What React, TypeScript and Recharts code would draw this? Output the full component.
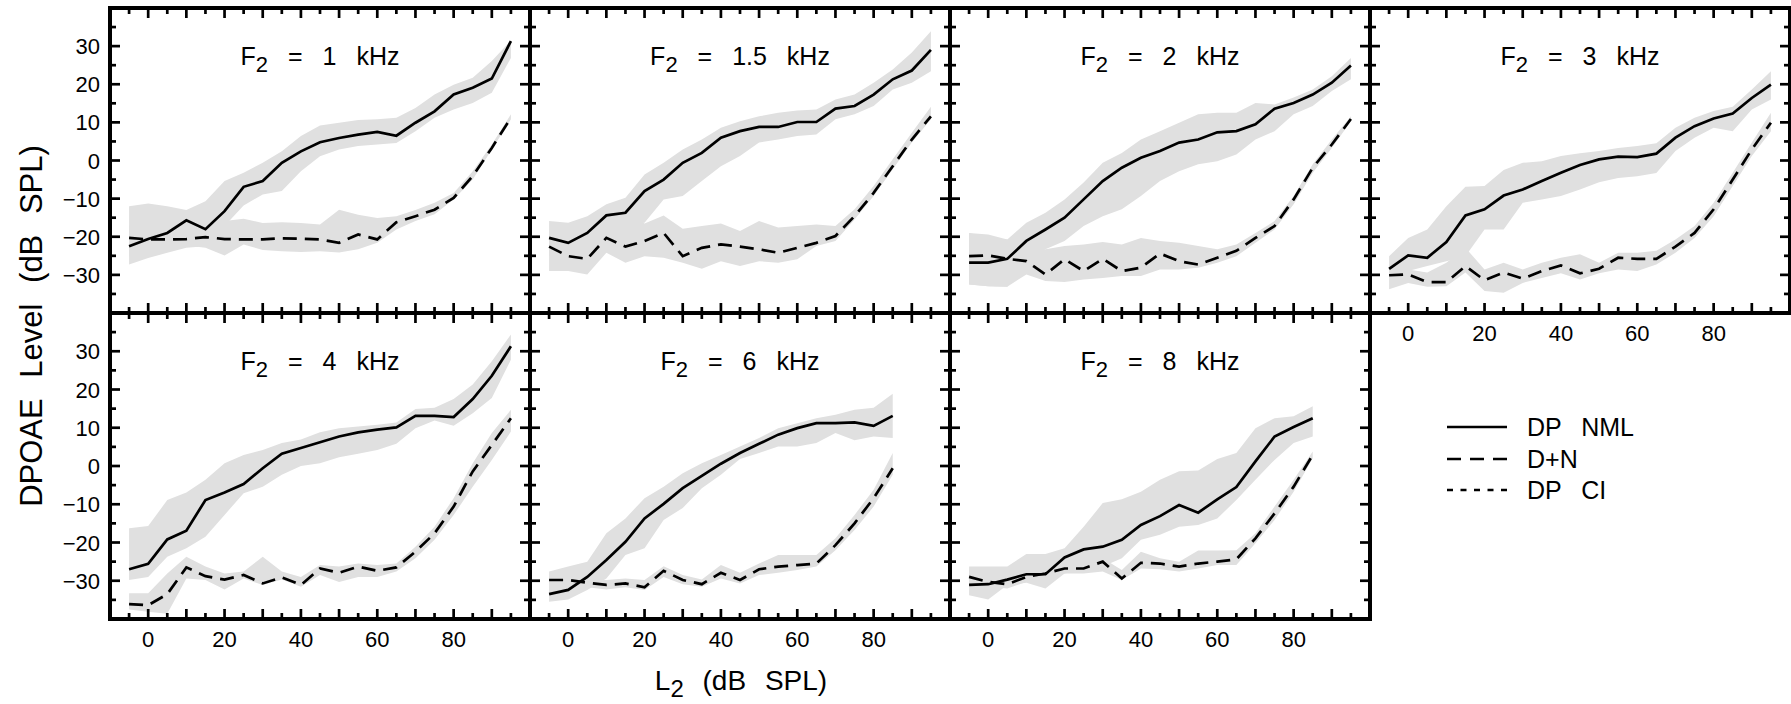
import React from "react"
import { ComposedChart, Area, Line, XAxis, YAxis, ReferenceLine } from "recharts"

// L2 levels (dB SPL)
const L2_FULL = [-5, 0, 5, 10, 15, 20, 25, 30, 35, 40, 45, 50, 55, 60, 65, 70, 75, 80, 85, 90, 95]
const L2_SHORT = [-5, 0, 5, 10, 15, 20, 25, 30, 35, 40, 45, 50, 55, 60, 65, 70, 75, 80, 85]

// tick marks / labels
const X_TICKS = [-5, 0, 5, 10, 15, 20, 25, 30, 35, 40, 45, 50, 55, 60, 65, 70, 75, 80, 85, 90, 95]
const Y_TICKS = [-35, -30, -25, -20, -15, -10, -5, 0, 5, 10, 15, 20, 25, 30, 35]
const X_LABELS = [0, 20, 40, 60, 80]
const Y_LABELS = [-30, -20, -10, 0, 10, 20, 30]

// F2 = 1 kHz
const nml1 = [-22.5, -20.6, -19, -15.7, -18, -13.3, -6.9, -5.4, -0.6, 2.4, 4.8, 5.9, 6.8, 7.5, 6.5, 9.9, 12.9, 17.3, 19.1, 21.5, 31.3]
const nml1Hi = [-12, -11.3, -12, -13, -10.7, -5.4, -3.2, -0.6, 2.4, 6.4, 9.2, 9.9, 10.6, 10.8, 11.2, 13.8, 17.3, 19.9, 21.7, 26.1, 31.5]
const nml1Lo = [-27.3, -25.6, -24.2, -22.9, -22.5, -17.2, -11.8, -8.9, -8, -2.8, 1.1, 2.9, 3.8, 4.2, 4.6, 7.7, 11.2, 13.4, 15.1, 17.8, 26.9]
const dn1 = [-20.3, -20.7, -20.7, -20.6, -20.1, -20.6, -20.7, -20.7, -20.4, -20.5, -20.7, -21.6, -19.4, -20.7, -16.2, -14.6, -12.9, -9.8, -4.1, 3.3, 11.2]
const dn1Hi = [-17, -17.5, -18, -17, -16.8, -15.9, -15.3, -16.4, -16.2, -16.4, -16.8, -12.9, -14.2, -15.1, -14.6, -13, -11.1, -8.5, -2.8, 4.2, 12.1]
const dn1Lo = [-25.1, -23.8, -22.5, -22.3, -22.9, -24.9, -22, -23.5, -23.8, -24, -23.8, -24.1, -23.3, -21.6, -18.1, -15.9, -14.1, -10.2, -5, 2.9, 10.8]

// F2 = 1.5 kHz
const nml2 = [-20.3, -21.6, -19, -14.4, -13.7, -8, -5, -0.6, 2, 6, 7.7, 8.8, 8.8, 10.1, 10.1, 13.6, 14.3, 17.3, 21.3, 23.6, 29]
const nml2Hi = [-15.9, -16.3, -14.6, -11.5, -9.8, -3.7, -0.6, 2.9, 5.5, 8.6, 10.3, 11.6, 12.5, 13.1, 13.4, 16, 17.3, 20.4, 23.9, 28.3, 33.9]
const nml2Lo = [-25, -25.5, -23.5, -18.5, -17, -16.3, -10.2, -9.3, -5.4, -1.5, 1.2, 4.7, 5.5, 6.4, 6.8, 10.8, 12.1, 14.3, 18.6, 20.4, 23.4]
const dn2 = [-22.6, -25.1, -25.8, -20.3, -22.6, -21.1, -19, -25.1, -22.9, -22, -22.6, -23.3, -24.2, -22.9, -21.6, -19.8, -14.6, -8.5, -1.5, 5.5, 11.6]
const dn2Hi = [-19.4, -20.7, -20.7, -15, -13.7, -16.5, -14.4, -17.9, -17.2, -16.5, -18.5, -15.9, -17.6, -17.2, -16.8, -17.2, -12.8, -6.7, 0.3, 7.3, 14.1]
const dn2Lo = [-29, -29, -29.9, -24.2, -26.8, -25.1, -25.5, -26.8, -28.4, -26.4, -27.7, -26.4, -26.8, -25.9, -22.4, -21.1, -15.5, -9.3, -2.3, 4.7, 10.8]

// F2 = 2 kHz
const nml3 = [-26.8, -26.8, -25.8, -21.1, -18.1, -15, -10.2, -5.4, -1.9, 0.7, 2.5, 4.7, 5.5, 7.4, 7.7, 9.5, 13.6, 15.1, 17.3, 20.4, 24.9]
const nml3Hi = [-19, -20.3, -20.7, -16.3, -13.7, -10.2, -5.8, -0.6, 2, 5.5, 7.7, 9.9, 12.1, 12.5, 12.5, 15.1, 14.7, 16.5, 18.6, 22.1, 26.9]
const nml3Lo = [-32.5, -33, -33.1, -24.2, -23.3, -21.1, -17.2, -14.6, -12.8, -9.3, -5.4, -2.8, -1, -0.2, 1.6, 5.5, 7.7, 12.1, 14.3, 18.2, 21.3]
const dn3 = [-25.1, -24.9, -25.8, -26.4, -29.9, -25.9, -29, -25.8, -29, -28.1, -24.4, -26.4, -27.3, -25.5, -23.7, -20.3, -17.2, -10.2, -1.9, 4.2, 10.9]
const dn3Hi = [-19, -19.4, -20.7, -22.4, -23.3, -22.4, -22, -21.4, -22, -20.3, -21.1, -21.6, -22.4, -23.3, -22, -19, -15.9, -9.3, -1, 5.5, 11.6]
const dn3Lo = [-32.5, -33, -33.1, -29.9, -31.6, -31.9, -31.2, -30.8, -30.3, -30.3, -28.6, -28.6, -28.1, -26.8, -25.1, -21.6, -18.1, -11.5, -3.2, 3.3, 10.3]

// F2 = 3 kHz
const nml4 = [-28.4, -24.9, -25.5, -21.4, -14.4, -12.8, -9.2, -7.6, -5.4, -3.2, -1.2, 0.3, 1, 0.9, 1.8, 6, 9, 11, 12.3, 16.4, 19.9]
const nml4Hi = [-25.1, -20.3, -18.1, -12, -6.9, -6.7, -2.5, -0.6, -0.2, 1.2, 1.9, 2.5, 3.3, 3.8, 4.5, 8.6, 11.2, 13, 14.1, 18.6, 23.4]
const nml4Lo = [-31.5, -29, -27.7, -26.4, -25.1, -18.1, -18.1, -11.1, -10.2, -9.3, -7.6, -5.7, -4.6, -4.1, -3.3, 2.5, 6, 8.6, 7.7, 13.4, 16]
const dn4 = [-30.1, -29.9, -31.9, -31.9, -27.7, -31.4, -29.4, -31, -29, -27.5, -29.6, -28.4, -25.5, -25.8, -25.8, -22.6, -19, -12.8, -5, 2.9, 9.9]
const dn4Hi = [-27.7, -28.6, -29.4, -26.8, -22.9, -28.6, -26.8, -28.6, -26.8, -25.5, -24.6, -26.8, -24.2, -24.2, -23.7, -20.7, -17.2, -11.1, -3.2, 4.7, 12.5]
const dn4Lo = [-33.8, -32.1, -33.1, -33, -29.4, -34.2, -34.7, -32.1, -30.8, -29.6, -31.2, -29.6, -28.6, -29, -27.3, -24.2, -20.3, -14.6, -6.7, 1.2, 7.7]

// F2 = 4 kHz
const nml5 = [-27, -25.6, -19.2, -16.9, -8.9, -6.9, -4.7, -0.6, 3.2, 4.7, 6.2, 7.7, 8.8, 9.5, 10.1, 13.1, 13.1, 12.8, 17.5, 23.6, 31.3]
const nml5Hi = [-16.3, -15.7, -8.9, -6.9, -3.6, 0.7, 2.9, 4.2, 6, 6.9, 8.8, 9.9, 10.3, 10.8, 11.4, 14.9, 15.2, 17.5, 21.3, 27.4, 34.4]
const nml5Lo = [-29.8, -29, -23.7, -21.5, -18.5, -12.8, -7.1, -5.4, -2.3, 0, 0.7, 2.3, 3.2, 4.2, 5.8, 9.9, 11.9, 10.5, 13.8, 17.8, 27.8]
const dn5 = [-36.1, -36.4, -33.5, -26.5, -28.8, -29.7, -28.5, -30.7, -29.1, -31.1, -26.8, -27.9, -26.3, -27.4, -26.5, -22.4, -17.6, -10.6, -1.4, 5.5, 12.5]
const dn5Hi = [-33.3, -33.3, -28.1, -23.7, -26.3, -28.1, -27.6, -23.7, -27.6, -29, -25.9, -26.3, -25.5, -25.9, -25.5, -21.1, -15.9, -8.4, 0.7, 8.6, 14.7]
const dn5Lo = [-37.5, -38.1, -38.6, -29.4, -29.8, -32.3, -29.4, -31.1, -29.7, -31.6, -28.5, -30.3, -29, -29, -27.6, -24.1, -19.3, -12.8, -5.4, 1.6, 9]

// F2 = 6 kHz
const nml6 = [-33.5, -32.4, -29, -24.6, -19.8, -13.7, -9.9, -5.8, -2.6, 0.6, 3.4, 5.8, 8.2, 9.9, 11.2, 11.2, 11.4, 10.5, 13.1]
const nml6Hi = [-27.6, -26.3, -25, -17.6, -13.7, -8.4, -5.4, -1.9, 0.7, 2.9, 5.1, 7.3, 9.9, 11.2, 12.5, 13.4, 14.7, 15.2, 18.9]
const nml6Lo = [-35.5, -34.9, -32.4, -29.4, -23.3, -21.5, -14.1, -11, -5.8, -2.3, 1.8, 3.4, 5.1, 5.1, 6, 8.6, 6.7, 7.7, 7.3]
const dn6 = [-29.8, -29.8, -30.5, -31.1, -30.7, -31.7, -27.4, -29.8, -30.9, -27.9, -29.8, -27, -26.3, -25.9, -25.5, -20.7, -15, -8.4, -0.6]
const dn6Hi = [-29, -29, -29.4, -29.8, -29.4, -29.8, -26.2, -28.5, -29.7, -25.9, -27.9, -25.5, -23.3, -23.3, -23.3, -18.9, -12.8, -6.2, 3.4]
const dn6Lo = [-30.7, -31.4, -31.7, -32.3, -31.7, -32.4, -29, -30.9, -31.6, -29.4, -30.7, -28.5, -27.9, -27.2, -26.3, -22, -16.7, -10.6, -2.3]

// F2 = 8 kHz
const nml7 = [-31.1, -30.9, -29.7, -28.3, -28.3, -23.9, -21.8, -21.1, -19.3, -15.4, -13.1, -10.2, -12.2, -8.7, -5.5, 1.2, 7.7, 10.2, 12.5]
const nml7Hi = [-26.3, -26.3, -26.3, -23, -23, -21.5, -15.9, -9.7, -8.7, -6.7, -3.6, -1.4, -1.2, 1.8, 3.4, 9.9, 12.5, 13, 15.6]
const nml7Lo = [-33.8, -34.9, -31.1, -30.5, -32, -28.1, -27.2, -26.3, -24.1, -19.3, -18, -15.9, -15.4, -13.7, -8.9, -3.6, 1.6, 6, 7.7]
const dn7 = [-29, -30.3, -30.9, -29, -28.1, -26.8, -26.8, -25, -29.4, -25.3, -25.5, -26.3, -25.5, -25, -24.4, -18.9, -12.4, -5.4, 2.9]
const dn7Hi = [-27.2, -29, -29.4, -27.6, -27, -25.6, -25.5, -24.1, -27.2, -22.4, -24.1, -25, -22.1, -22.1, -22, -17.6, -10.6, -3.6, 3.8]
const dn7Lo = [-30.7, -31.6, -32, -30.3, -29.4, -28.1, -28.1, -27.6, -29.8, -26.8, -27, -27.6, -26.8, -25.9, -25.9, -20.2, -14.1, -6.7, 2]

const panels = [
  { f: "1", L: L2_FULL, nml: nml1, nmlLo: nml1Lo, nmlHi: nml1Hi, dn: dn1, dnLo: dn1Lo, dnHi: dn1Hi, row: 0, col: 0 },
  { f: "1.5", L: L2_FULL, nml: nml2, nmlLo: nml2Lo, nmlHi: nml2Hi, dn: dn2, dnLo: dn2Lo, dnHi: dn2Hi, row: 0, col: 1 },
  { f: "2", L: L2_FULL, nml: nml3, nmlLo: nml3Lo, nmlHi: nml3Hi, dn: dn3, dnLo: dn3Lo, dnHi: dn3Hi, row: 0, col: 2 },
  { f: "3", L: L2_FULL, nml: nml4, nmlLo: nml4Lo, nmlHi: nml4Hi, dn: dn4, dnLo: dn4Lo, dnHi: dn4Hi, row: 0, col: 3 },
  { f: "4", L: L2_FULL, nml: nml5, nmlLo: nml5Lo, nmlHi: nml5Hi, dn: dn5, dnLo: dn5Lo, dnHi: dn5Hi, row: 1, col: 0 },
  { f: "6", L: L2_SHORT, nml: nml6, nmlLo: nml6Lo, nmlHi: nml6Hi, dn: dn6, dnLo: dn6Lo, dnHi: dn6Hi, row: 1, col: 1 },
  { f: "8", L: L2_SHORT, nml: nml7, nmlLo: nml7Lo, nmlHi: nml7Hi, dn: dn7, dnLo: dn7Lo, dnHi: dn7Hi, row: 1, col: 2 },
]

// layout
const PLOT_LEFT = 110
const PLOT_W = 420
const ROW_TOP = [8, 313]
const ROW_H = [305, 306]
// outer room around each plot (the 1px axes sit inside it)
const PAD = { top: 12, right: 12, bottom: 44, left: 64 }
const M = { top: PAD.top - 1, right: PAD.right - 1, bottom: PAD.bottom - 1, left: PAD.left - 1 }
const MAJOR = 10
const MINOR = 6
const GREY = "#e0e0e0"
const FONT = "'Liberation Sans', Arial, Helvetica, sans-serif"
const X_DOM = [-10, 100]
const Y_DOM = [-40, 40]

const fmt = (v: number) => (v < 0 ? "\u2212" + Math.abs(v) : String(v))
const tickLen = (v: number) => (v % 10 === 0 ? MAJOR : MINOR)

// tick labels only; the marks themselves are reference segments
function makeTick(side: string, labels: number[] | null) {
  return (props: any) => {
    const { x, y, payload } = props
    const v = payload.value
    const show = labels && labels.includes(v)
    if (!show) return <g />
    if (side === "bottom")
      return (
        <text x={x} y={Number(y) + 28} textAnchor="middle" fontSize={22} fontFamily={FONT} fill="#000">
          {fmt(v)}
        </text>
      )
    return (
      <text x={Number(x) - 10} y={Number(y) + 8} textAnchor="end" fontSize={22} fontFamily={FONT} fill="#000">
        {fmt(v)}
      </text>
    )
  }
}

const axisLine = { stroke: "#000", strokeWidth: 4, strokeLinecap: "square" as const }

function tickSegments(h: number) {
  const ux = (X_DOM[1] - X_DOM[0]) / PLOT_W // data units per px
  const uy = (Y_DOM[1] - Y_DOM[0]) / h
  const segs: any[] = []
  X_TICKS.forEach((v) => {
    const d = tickLen(v) * uy
    segs.push([{ x: v, y: Y_DOM[0] }, { x: v, y: Y_DOM[0] + d }])
    segs.push([{ x: v, y: Y_DOM[1] }, { x: v, y: Y_DOM[1] - d }])
  })
  Y_TICKS.forEach((v) => {
    const d = tickLen(v) * ux
    segs.push([{ x: X_DOM[0], y: v }, { x: X_DOM[0] + d, y: v }])
    segs.push([{ x: X_DOM[1], y: v }, { x: X_DOM[1] - d, y: v }])
  })
  return segs
}

function Panel({ p }: { p: any }) {
  const h = ROW_H[p.row]
  const left = PLOT_LEFT + p.col * PLOT_W
  const top = ROW_TOP[p.row]
  const data = p.L.map((x: number, i: number) => ({
    x,
    nml: p.nml[i],
    dn: p.dn[i],
    nmlBand: [p.nmlLo[i], p.nmlHi[i]],
    dnBand: [p.dnLo[i], p.dnHi[i]],
  }))
  const xLab = p.row === 1 || p.col === 3 ? X_LABELS : null
  const yLab = p.col === 0 ? Y_LABELS : null
  const segs = tickSegments(h)

  return (
    <div style={{ position: "absolute", left: left - PAD.left, top: top - PAD.top }}>
      <ComposedChart width={PLOT_W + PAD.left + PAD.right} height={h + PAD.top + PAD.bottom} data={data} margin={M}>
        <Area xAxisId="b" yAxisId="l" dataKey="nmlBand" type="linear" stroke="none" fill={GREY} fillOpacity={1} dot={false} activeDot={false} isAnimationActive={false} />
        <Area xAxisId="b" yAxisId="l" dataKey="dnBand" type="linear" stroke="none" fill={GREY} fillOpacity={1} dot={false} activeDot={false} isAnimationActive={false} />
        <Line xAxisId="b" yAxisId="l" dataKey="nml" type="linear" stroke="#000" strokeWidth={2.7} dot={false} activeDot={false} isAnimationActive={false} />
        <Line xAxisId="b" yAxisId="l" dataKey="dn" type="linear" stroke="#000" strokeWidth={2.7} strokeDasharray="14 8" dot={false} activeDot={false} isAnimationActive={false} />

        {segs.map((s, i) => (
          <ReferenceLine key={i} xAxisId="b" yAxisId="l" segment={s} stroke="#000" strokeWidth={2.7} ifOverflow="visible" />
        ))}

        <XAxis xAxisId="b" dataKey="x" type="number" domain={X_DOM} allowDataOverflow orientation="bottom" height={1}
          ticks={X_TICKS} interval={0} tickSize={0} tickMargin={0} tickLine={false} axisLine={axisLine} tick={makeTick("bottom", xLab)} />
        <XAxis xAxisId="t" dataKey="x" type="number" domain={X_DOM} allowDataOverflow orientation="top" height={1}
          ticks={X_TICKS} interval={0} tickSize={0} tickMargin={0} tickLine={false} axisLine={axisLine} tick={false} />
        <YAxis yAxisId="l" type="number" domain={Y_DOM} allowDataOverflow orientation="left" width={1}
          ticks={Y_TICKS} interval={0} tickSize={0} tickMargin={0} tickLine={false} axisLine={axisLine} tick={makeTick("left", yLab)} />
        <YAxis yAxisId="r" type="number" domain={Y_DOM} allowDataOverflow orientation="right" width={1}
          ticks={Y_TICKS} interval={0} tickSize={0} tickMargin={0} tickLine={false} axisLine={axisLine} tick={false} />
      </ComposedChart>
    </div>
  )
}

export default function App() {
  return (
    <div style={{ position: "relative", width: 1791, height: 704, background: "#fff", fontFamily: FONT, overflow: "hidden" }}>
      <style>{"body{margin:0}"}</style>
      {panels.map((p) => (
        <Panel key={p.f} p={p} />
      ))}

      <svg width={1791} height={704} style={{ position: "absolute", left: 0, top: 0, pointerEvents: "none" }}>
        {/* panel titles */}
        {panels.map((p) => (
          <text key={p.f} x={PLOT_LEFT + p.col * PLOT_W + PLOT_W / 2} y={ROW_TOP[p.row] + 57} textAnchor="middle"
            fontSize={25} fontFamily={FONT} fill="#000" style={{ wordSpacing: 13 }}>
            F<tspan dy={7} fontSize={22}>2</tspan>
            <tspan dy={-7}>{` = ${p.f} kHz`}</tspan>
          </text>
        ))}

        {/* axis titles */}
        <text x={31} y={326} transform="rotate(-90 31 326)" textAnchor="middle" dominantBaseline="central"
          fontSize={31} fontFamily={FONT} fill="#000" style={{ wordSpacing: 12 }}>
          DPOAE Level (dB SPL)
        </text>
        <text x={741} y={690} textAnchor="middle" fontSize={28} fontFamily={FONT} fill="#000" style={{ wordSpacing: 11 }}>
          L<tspan dy={7} fontSize={24}>2</tspan>
          <tspan dy={-7}> (dB SPL)</tspan>
        </text>

        {/* legend */}
        <line x1={1447} y1={427} x2={1507} y2={427} stroke="#000" strokeWidth={2.6} />
        <line x1={1447} y1={459} x2={1507} y2={459} stroke="#000" strokeWidth={2.6} strokeDasharray="14 9" />
        <line x1={1447} y1={490} x2={1507} y2={490} stroke="#000" strokeWidth={2.6} strokeDasharray="6 7.5" />
        <text x={1527} y={436} fontSize={25} fontFamily={FONT} fill="#000" style={{ wordSpacing: 13 }}>DP NML</text>
        <text x={1527} y={468} fontSize={25} fontFamily={FONT} fill="#000">D+N</text>
        <text x={1527} y={499} fontSize={25} fontFamily={FONT} fill="#000" style={{ wordSpacing: 13 }}>DP CI</text>
      </svg>
    </div>
  )
}
